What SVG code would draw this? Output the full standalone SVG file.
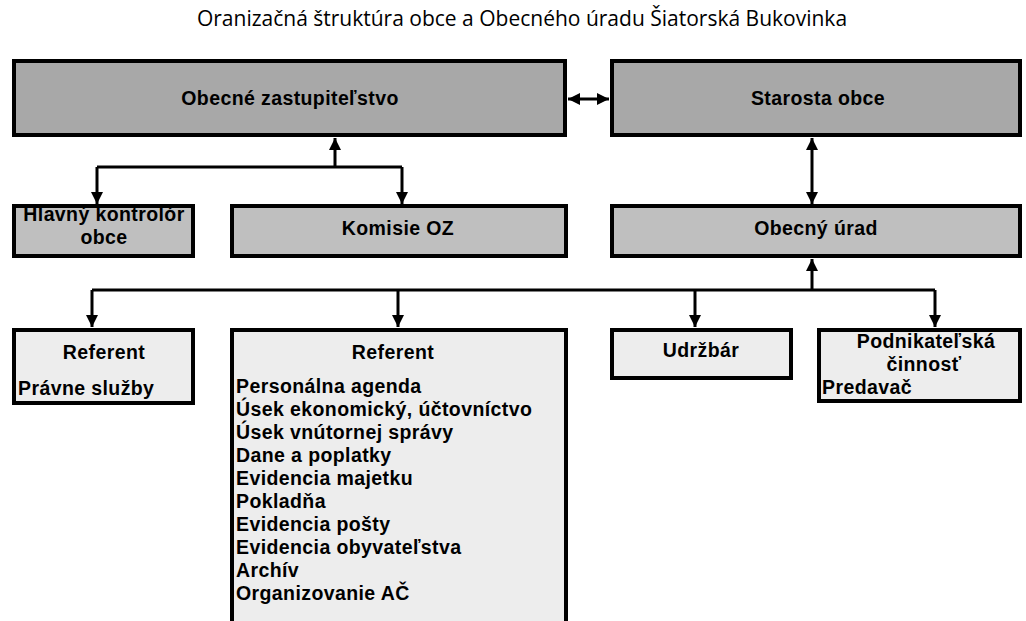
<svg xmlns="http://www.w3.org/2000/svg" width="1026" height="621" viewBox="0 0 1026 621">
<style>
  .box{stroke:#000;stroke-width:4}
  .r1{fill:#a8a8a8}
  .r2{fill:#bfbfbf}
  .r3{fill:#ededed}
  .t{font-family:"Liberation Sans",Arial,sans-serif;font-weight:700;font-size:19.5px;letter-spacing:0.4px;fill:#000}
  .c{text-anchor:middle}
  .title{font-family:"Open Sans","Noto Sans",sans-serif;font-weight:400;font-size:21px;fill:#000;text-anchor:middle}
  .ln{fill:none;stroke:#000;stroke-width:3}
</style>
<defs>
  <marker id="ah" viewBox="0 0 10 10" refX="10" refY="5" markerWidth="12" markerHeight="12" markerUnits="userSpaceOnUse" orient="auto-start-reverse">
    <path d="M0,0 L10,5 L0,10 z" fill="#000"/>
  </marker>
</defs>
<rect width="1026" height="621" fill="#fff"/>
<text class="title" x="522" y="26">Oranizačná štruktúra obce a Obecného úradu Šiatorská Bukovinka</text>

<g id="connectors">
  <path class="ln" d="M568 99 H609" marker-start="url(#ah)" marker-end="url(#ah)"/>
  <path class="ln" d="M335 167 V138" marker-end="url(#ah)"/>
  <path class="ln" d="M97 167 H402"/>
  <path class="ln" d="M97 167 V204" marker-end="url(#ah)"/>
  <path class="ln" d="M402 167 V204" marker-end="url(#ah)"/>
  <path class="ln" d="M812 138 V204" marker-start="url(#ah)" marker-end="url(#ah)"/>
  <path class="ln" d="M812 290 V259" marker-end="url(#ah)"/>
  <path class="ln" d="M92 290 H935"/>
  <path class="ln" d="M92 290 V327" marker-end="url(#ah)"/>
  <path class="ln" d="M398 290 V327" marker-end="url(#ah)"/>
  <path class="ln" d="M695 290 V327" marker-end="url(#ah)"/>
  <path class="ln" d="M935 290 V327" marker-end="url(#ah)"/>
</g>

<g id="obecne-zastupitelstvo">
  <rect class="box r1" x="14" y="61" width="551" height="74"/>
  <text class="t c" x="290" y="105">Obecné zastupiteľstvo</text>
</g>
<g id="starosta-obce">
  <rect class="box r1" x="612" y="61" width="408" height="74"/>
  <text class="t c" x="818" y="105">Starosta obce</text>
</g>
<g id="hlavny-kontrolor">
  <rect class="box r2" x="14" y="206" width="179" height="50"/>
  <text class="t c" x="104" y="221">Hlavný kontrolór</text>
  <text class="t c" x="104" y="244">obce</text>
</g>
<g id="komisie-oz">
  <rect class="box r2" x="232" y="206" width="334" height="50"/>
  <text class="t c" x="398" y="235">Komisie OZ</text>
</g>
<g id="obecny-urad">
  <rect class="box r2" x="612" y="206" width="408" height="50"/>
  <text class="t c" x="816" y="235">Obecný úrad</text>
</g>
<g id="referent-pravne">
  <rect class="box r3" x="14" y="330" width="179" height="73"/>
  <text class="t c" x="104" y="359">Referent</text>
  <text class="t" x="18" y="395">Právne služby</text>
</g>
<g id="referent-agenda">
  <rect class="box r3" x="232" y="330" width="334" height="310"/>
  <text class="t c" x="393" y="359">Referent</text>
  <text class="t" x="236" y="393">Personálna agenda</text>
  <text class="t" x="236" y="416">Úsek ekonomický, účtovníctvo</text>
  <text class="t" x="236" y="439">Úsek vnútornej správy</text>
  <text class="t" x="236" y="462">Dane a poplatky</text>
  <text class="t" x="236" y="485">Evidencia majetku</text>
  <text class="t" x="236" y="508">Pokladňa</text>
  <text class="t" x="236" y="531">Evidencia pošty</text>
  <text class="t" x="236" y="554">Evidencia obyvateľstva</text>
  <text class="t" x="236" y="577">Archív</text>
  <text class="t" x="236" y="600">Organizovanie AČ</text>
</g>
<g id="udrzbar">
  <rect class="box r3" x="612" y="330" width="179" height="48"/>
  <text class="t c" x="701" y="357">Udržbár</text>
</g>
<g id="podnikatelska-cinnost">
  <rect class="box r3" x="819" y="330" width="201" height="71"/>
  <text class="t c" x="926" y="348">Podnikateľská</text>
  <text class="t c" x="924" y="371">činnosť</text>
  <text class="t" x="822" y="394">Predavač</text>
</g>
</svg>
